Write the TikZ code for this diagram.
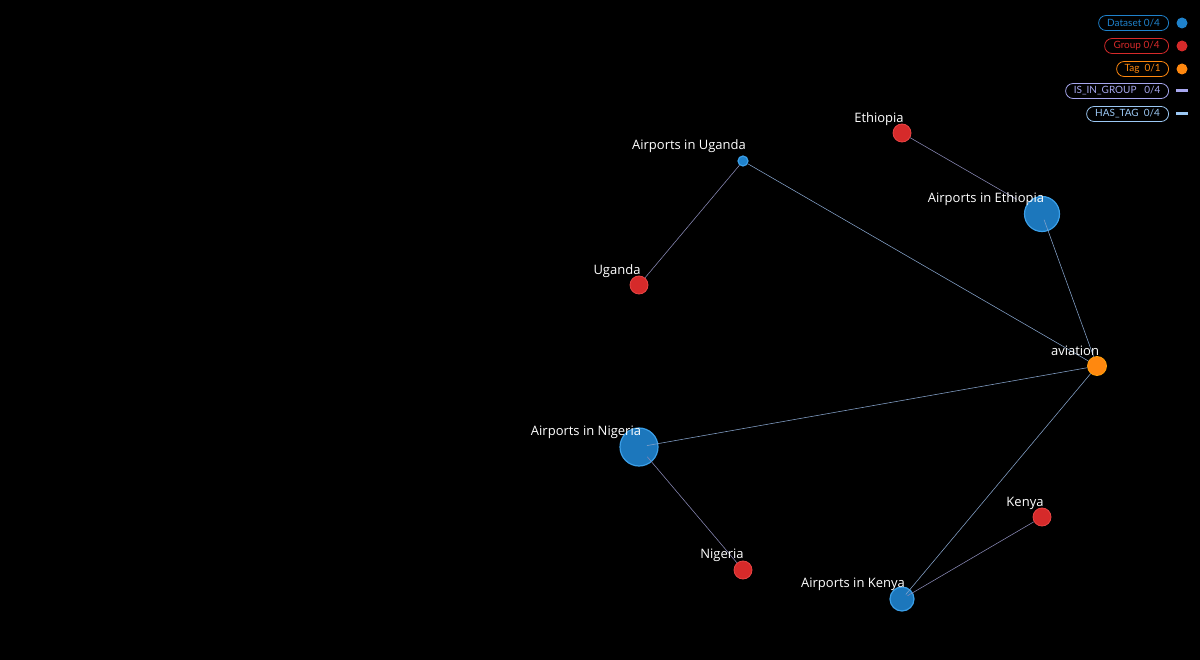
\documentclass[tikz,border=0pt]{standalone}
\usepackage{fontspec}
\usetikzlibrary{calc}
\setmainfont{Open Sans}
\newfontfamily\legfont{Lato}
\definecolor{dsblue}{HTML}{1F82CC}
\definecolor{dsborder}{HTML}{3B9FE8}
\definecolor{grpred}{HTML}{D62A2A}
\definecolor{grpborder}{HTML}{E84545}
\definecolor{tagorange}{HTML}{FF880F}
\definecolor{groupedge}{HTML}{8A8AB8}
\definecolor{tagedge}{HTML}{86A4CC}
\definecolor{leggroup}{HTML}{A8A8F0}
\definecolor{legtag}{HTML}{9CC8F4}
\tikzset{
  ds/.style={circle, fill=dsblue, draw=dsborder, line width=1.2pt, inner sep=0pt},
  grp/.style={circle, fill=grpred, draw=grpborder, line width=0.8pt, minimum size=18pt, inner sep=0pt},
  tagn/.style={circle, fill=tagorange, draw=tagorange!80!yellow, line width=0.8pt, minimum size=19pt, inner sep=0pt},
  lbl/.style={text=white, font=\fontsize{13}{15}\selectfont, inner sep=0pt},
  ingroup/.style={draw=groupedge, line width=0.55pt},
  hastag/.style={draw=tagedge, line width=0.55pt},
  pill/.style={rounded corners=7.5pt, line width=0.8pt, minimum height=15pt, inner sep=0pt, anchor=east, font=\legfont\fontsize{10}{12}\selectfont},
  legdot/.style={circle, inner sep=0pt, minimum size=11pt},
}
\begin{document}
\begin{tikzpicture}[x=1pt,y=-1pt]
\fill[black] (0,0) rectangle (1200,660);
\useasboundingbox (0,0) rectangle (1200,660);
% nodes
\node[ds, minimum size=10pt] (AU) at (743,161) {};
\node[grp] (Et) at (902,133) {};
\node[ds, minimum size=35pt, fill opacity=0.92] (AE) at (1042,214) {};
\node[grp] (Ug) at (639,285) {};
\node[tagn] (Av) at (1097,366) {};
\node[ds, minimum size=38pt, fill opacity=0.92] (AN) at (639,447) {};
\node[grp] (Ke) at (1042,517) {};
\node[grp] (Ni) at (743,570) {};
\node[ds, minimum size=24pt, fill opacity=0.92] (AK) at (902,599) {};
% edges (dataset end reaches inside the circle)
\draw[ingroup] (Ug) -- (AU);
\draw[hastag] (AU) -- (Av);
\draw[ingroup, shorten >=0pt] (Et) -- ($(Et)!0.82!(AE.center)$);
\draw[hastag] ($(AE.center)!6pt!(Av)$) -- (Av);
\draw[ingroup] (Ni) -- ($(Ni)!0.92!(AN.center)$);
\draw[hastag] ($(AN.center)!8pt!(Av)$) -- (Av);
\draw[ingroup] (Ke) -- ($(Ke)!0.96!(AK.center)$);
\draw[hastag] ($(AK.center)!6pt!(Av)$) -- (Av);
% labels
\node[lbl] (lAU) at (689,146) {Airports in Uganda};
\node[lbl] (lEt) at (879,119) {Ethiopia};
\node[lbl] (lAE) at (986,199) {Airports in Ethiopia};
\node[lbl] (lUg) at (617,271) {Uganda};
\node[lbl] (lAv) at (1075,351) {aviation};
\node[lbl] (lAN) at (586,432) {Airports in Nigeria};
\node[lbl] (lKe) at (1025,503) {Kenya};
\node[lbl] (lNi) at (722,555) {Nigeria};
\node[lbl] (lAK) at (853,584) {Airports in Kenya};
% legend
\node[pill, draw=dsblue, text=dsblue, minimum width=70pt] (pDS) at (1169,23) {Dataset 0/4};
\node[legdot, fill=dsblue] (dDS) at (1182,23) {};
\node[pill, draw=grpred, text=grpred, minimum width=64pt] (pGR) at (1169,46) {Group 0/4};
\node[legdot, fill=grpred] (dGR) at (1182,46) {};
\node[pill, draw=tagorange, text=tagorange, minimum width=52pt] (pTG) at (1169,69) {Tag\ \ 0/1};
\node[legdot, fill=tagorange] (dTG) at (1182,69) {};
\node[pill, draw=leggroup, text=leggroup, minimum width=103pt] (pIG) at (1169,91) {IS\_IN\_GROUP\ \ \ 0/4};
\coordinate (gA) at (1176,91);
\coordinate (gB) at (1188,91);
\draw[leggroup, line width=3pt] (gA) -- (gB);
\node[pill, draw=legtag, text=legtag, minimum width=82pt] (pHT) at (1169,114) {HAS\_TAG\ \ 0/4};
\coordinate (tA) at (1176,114);
\coordinate (tB) at (1188,114);
\draw[legtag, line width=3pt] (tA) -- (tB);
\end{tikzpicture}
\end{document}
